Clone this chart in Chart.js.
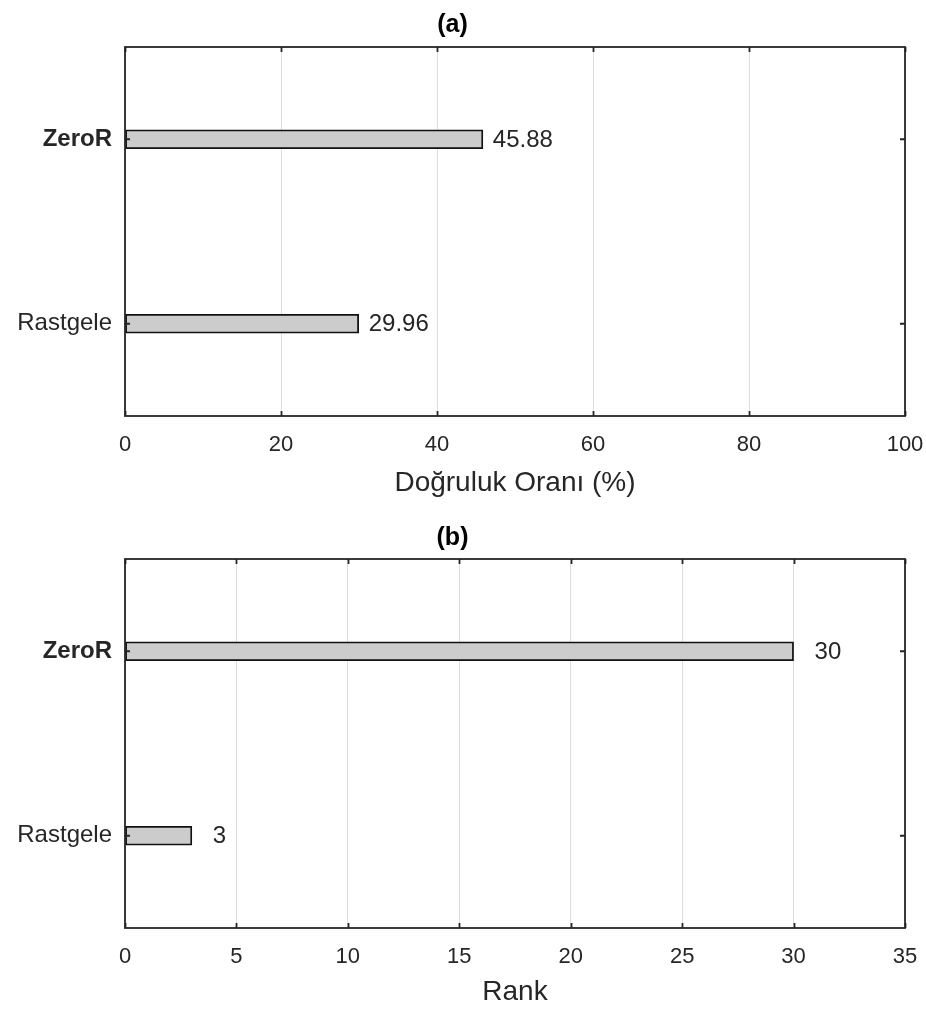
<!DOCTYPE html>
<html>
<head>
<meta charset="utf-8">
<script src="https://cdn.jsdelivr.net/npm/chart.js@4.4.1/dist/chart.umd.min.js"></script>
<style>
  html, body { margin: 0; padding: 0; background: #ffffff; }
  #wrap { position: relative; width: 926px; height: 1010px; }
  .panel { position: absolute; left: 0; width: 926px; height: 505px; }
</style>
</head>
<body>
<div id="wrap">
  <div class="panel" style="top:0"><canvas id="chartA" width="926" height="505"></canvas></div>
  <div class="panel" style="top:505px"><canvas id="chartB" width="926" height="505"></canvas></div>
</div>
<script>
// Methods compared in both panels (top to bottom)
const categories = ['ZeroR', 'Rastgele'];
// (a) accuracy in percent
const accuracyValues = [45.88, 29.96];
const accuracyTicks = [0, 20, 40, 60, 80, 100];
// (b) rank
const rankValues = [30, 3];
const rankTicks = [0, 5, 10, 15, 20, 25, 30, 35];

const FONT = "'Liberation Sans', Arial, Helvetica, sans-serif";
const INK = '#262626';

// Closed box with short inward tick marks on all four sides
const framePlugin = {
  id: 'frame',
  afterDraw(chart) {
    const { ctx, chartArea: a, scales: { x, y } } = chart;
    ctx.save();
    ctx.strokeStyle = INK;
    ctx.lineWidth = 1.8;
    ctx.beginPath();
    x.ticks.forEach(t => {
      const px = Math.round(x.getPixelForValue(t.value)) + 0.5;
      ctx.moveTo(px, a.bottom); ctx.lineTo(px, a.bottom - 5);
      ctx.moveTo(px, a.top); ctx.lineTo(px, a.top + 5);
    });
    y.ticks.forEach((t, i) => {
      const py = y.getPixelForTick(i);
      ctx.moveTo(a.left, py); ctx.lineTo(a.left + 5, py);
      ctx.moveTo(a.right, py); ctx.lineTo(a.right - 5, py);
    });
    ctx.stroke();
    ctx.strokeRect(a.left, a.top, a.right - a.left, a.bottom - a.top);
    ctx.restore();
  }
};

// Value printed just past the end of each bar
const valueLabelPlugin = {
  id: 'valueLabels',
  afterDatasetsDraw(chart, args, opts) {
    const { ctx, scales: { x } } = chart;
    const meta = chart.getDatasetMeta(0);
    const data = chart.data.datasets[0].data;
    ctx.save();
    ctx.fillStyle = INK;
    ctx.font = `${opts.size}px ${FONT}`;
    ctx.textAlign = 'left';
    ctx.textBaseline = 'middle';
    meta.data.forEach((bar, i) => {
      const px = x.getPixelForValue(data[i]);
      ctx.fillText(String(data[i]), px + opts.offset, bar.y + 1);
    });
    ctx.restore();
  }
};

function makeChart(id, values, ticks, titleText, axisText, geo) {
  return new Chart(document.getElementById(id), {
    type: 'bar',
    data: {
      labels: categories,
      datasets: [{
        data: values,
        backgroundColor: '#cccccc',
        borderColor: '#111111',
        borderWidth: 1.8,
        borderSkipped: false,
        barThickness: 19
      }]
    },
    options: {
      indexAxis: 'y',
      responsive: false,
      animation: false,
      devicePixelRatio: 1,
      layout: { padding: { left: 0, right: 21, top: 0, bottom: 0 } },
      plugins: {
        legend: { display: false },
        tooltip: { enabled: false },
        title: {
          display: true,
          text: titleText,
          color: '#000000',
          font: { family: FONT, size: 25, weight: 'bold', lineHeight: 1.2 },
          padding: { top: geo.titleTop, bottom: geo.titleBottom }
        },
        valueLabels: { offset: geo.labelOffset, size: 24 }
      },
      scales: {
        x: {
          type: 'linear',
          min: ticks[0],
          max: ticks[ticks.length - 1],
          ticks: {
            stepSize: ticks[1] - ticks[0],
            color: INK,
            padding: geo.tickPad,
            font: { family: FONT, size: 22 }
          },
          grid: { color: '#dedede', lineWidth: 1, drawTicks: false },
          border: { display: false },
          title: {
            display: true,
            text: axisText,
            color: INK,
            font: { family: FONT, size: 28, lineHeight: 1.2 },
            padding: { top: 0, bottom: geo.axisTitleBottom }
          },
          afterFit(scale) {
            scale.height = geo.xHeight;
            scale.paddingLeft = 0;
            scale.paddingRight = 0;
          }
        },
        y: {
          type: 'category',
          ticks: {
            color: INK,
            padding: 13,
            font: ctx => ({
              family: FONT,
              size: 24,
              weight: ctx.tick && ctx.tick.label === 'ZeroR' ? 'bold' : 'normal'
            })
          },
          grid: { display: false, drawTicks: false },
          border: { display: false },
          afterFit(scale) {
            scale.width = 125;
            scale.paddingTop = 0;
            scale.paddingBottom = 0;
          }
        }
      }
    },
    plugins: [valueLabelPlugin, framePlugin]
  });
}

makeChart('chartA', accuracyValues, accuracyTicks, '(a)', 'Doğruluk Oranı (%)',
  { titleTop: 10, titleBottom: 7, xHeight: 89, tickPad: 16, axisTitleBottom: 5.2, labelOffset: 10 });
makeChart('chartB', rankValues, rankTicks, '(b)', 'Rank',
  { titleTop: 18, titleBottom: 6, xHeight: 82, tickPad: 16, axisTitleBottom: 1.2, labelOffset: 21 });
</script>
</body>
</html>
